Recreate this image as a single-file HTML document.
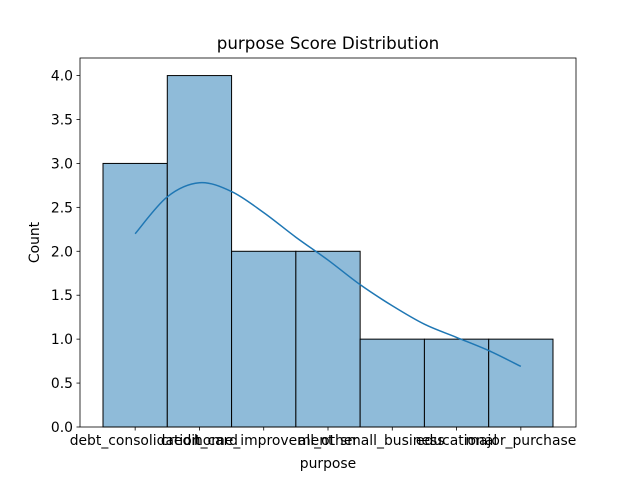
<!DOCTYPE html>
<html><head><meta charset="utf-8"><style>
body{margin:0;background:#fff;font-family:"Liberation Sans","DejaVu Sans",sans-serif;}
svg text{font-family:"DejaVu Sans","Liberation Sans",sans-serif;}
</style></head><body>
<svg id="chart" width="640" height="480" xmlns="http://www.w3.org/2000/svg">
<rect width="640" height="480" fill="#fff"/>
<g id="plot"></g>
</svg>
<script>
const categories=["debt_consolidation","credit_card","home_improvement","all_other","small_business","educational","major_purchase"];
const counts=[3,4,2,2,1,1,1];
const kdeX=[0,0.5,1,1.5,2,2.5,3,3.5,4,4.5,5,5.5,6];
const kdeY=[2.2,2.62,2.78,2.68,2.44,2.16,1.9,1.62,1.38,1.17,1.02,0.87,0.69];
const yTicks=[0,0.5,1,1.5,2,2.5,3,3.5,4];
const L=80,R=576,T=58,B=427;
const xmin=-0.858,xmax=6.858,ymin=0,ymax=4.2;
const sx=v=>L+(v-xmin)/(xmax-xmin)*(R-L);
const sy=v=>B-(v-ymin)/(ymax-ymin)*(B-T);
const NS="http://www.w3.org/2000/svg";
const g=document.getElementById('plot');
function mk(t,a,txt){const e=document.createElementNS(NS,t);for(const k in a)e.setAttribute(k,a[k]);if(txt!==undefined)e.textContent=txt;g.appendChild(e);return e;}
counts.forEach((c,i)=>{
 const r=mk('rect',{x:sx(i-0.5),y:sy(c),width:sx(i+0.5)-sx(i-0.5),height:sy(0)-sy(c),fill:'#8fbbd9',stroke:'#000','stroke-width':1});
 
 
});
const pts=kdeX.map((x,i)=>[sx(x),sy(kdeY[i])]);
let d='M'+pts[0][0]+' '+pts[0][1];
for(let i=0;i<pts.length-1;i++){const p0=pts[Math.max(i-1,0)],p1=pts[i],p2=pts[i+1],p3=pts[Math.min(i+2,pts.length-1)];
 d+=' C'+(p1[0]+(p2[0]-p0[0])/6)+' '+(p1[1]+(p2[1]-p0[1])/6)+' '+(p2[0]-(p3[0]-p1[0])/6)+' '+(p2[1]-(p3[1]-p1[1])/6)+' '+p2[0]+' '+p2[1];}
const k=mk('path',{d:d,fill:'none',stroke:'#1f77b4','stroke-width':1.5});

const fr=mk('rect',{x:L,y:T,width:R-L,height:B-T,fill:'none',stroke:'#000','stroke-width':0.8});

yTicks.forEach(v=>{const y=sy(v);mk('line',{x1:L-3.5,x2:L,y1:y,y2:y,stroke:'#000','stroke-width':0.8});
 const t=mk('text',{x:L-7,y:y+5,'text-anchor':'end','font-size':13.9},v.toFixed(1));
 });
categories.forEach((c,i)=>{const x=sx(i);mk('line',{x1:x,x2:x,y1:B,y2:B+3.5,stroke:'#000','stroke-width':0.8});
 const t=mk('text',{x:x,y:B+18,'text-anchor':'middle','font-size':13.9},c);
 });
let t=mk('text',{x:(L+R)/2,y:468,'text-anchor':'middle','font-size':13.9},'purpose');

t=mk('text',{x:0,y:0,'text-anchor':'middle','font-size':13.9,transform:'translate(39,'+((T+B)/2)+') rotate(-90)'},'Count');

t=mk('text',{x:(L+R)/2,y:49,'text-anchor':'middle','font-size':16.7},'purpose Score Distribution');

</script>
</body></html>
